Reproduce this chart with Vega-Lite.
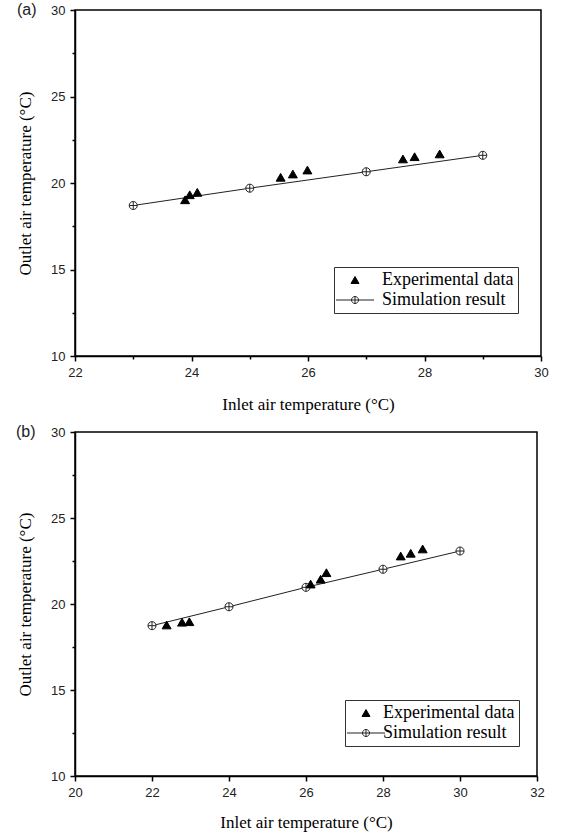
{
  "$schema": "https://vega.github.io/schema/vega-lite/v6.json",
  "padding": {"left": 15, "top": 1, "right": 5, "bottom": 5},
  "background": "white",
  "spacing": 10,
  "resolve": {
    "scale": {"shape": "independent", "fill": "independent", "stroke": "independent", "size": "independent", "x": "independent", "y": "independent"},
    "legend": {"shape": "independent", "fill": "independent", "stroke": "independent", "size": "independent"}
  },
  "config": {
    "view": {"stroke": "black", "strokeWidth": 1.5},
    "axis": {
      "grid": false,
      "domainColor": "black",
      "domainWidth": 1.5,
      "tickColor": "black",
      "tickWidth": 1.5,
      "labelFont": "Liberation Sans",
      "labelFontSize": 13,
      "labelColor": "#222",
      "labelPadding": 5,
      "labelFlush": false,
      "labelOverlap": false,
      "titleFont": "Liberation Serif",
      "titleFontSize": 17,
      "titleFontWeight": "normal",
      "titleColor": "black"
    },
    "axisX": {"titlePadding": 17},
    "axisY": {"titlePadding": 16},
    "legend": {
      "orient": "none",
      "padding": 4,
      "strokeColor": "#333",
      "fillColor": "white",
      "symbolStrokeWidth": 1,
      "symbolOffset": 8,
      "labelOffset": 18,
      "labelFont": "Liberation Serif",
      "labelFontSize": 18,
      "labelColor": "black",
      "rowPadding": 2
    },
    "title": {"font": "Liberation Sans", "fontSize": 16, "fontWeight": "normal", "color": "#222", "anchor": "start", "frame": "group"}
  },
  "datasets": {
    "a": [
      {"series": "Simulation result", "x": 23, "y": 18.7},
      {"series": "Simulation result", "x": 25, "y": 19.7},
      {"series": "Simulation result", "x": 27, "y": 20.65},
      {"series": "Simulation result", "x": 29, "y": 21.6},
      {"series": "Experimental data", "x": 23.89, "y": 19.03},
      {"series": "Experimental data", "x": 23.97, "y": 19.32},
      {"series": "Experimental data", "x": 24.1, "y": 19.46},
      {"series": "Experimental data", "x": 25.53, "y": 20.33},
      {"series": "Experimental data", "x": 25.74, "y": 20.52},
      {"series": "Experimental data", "x": 25.99, "y": 20.75},
      {"series": "Experimental data", "x": 27.63, "y": 21.39},
      {"series": "Experimental data", "x": 27.83, "y": 21.52},
      {"series": "Experimental data", "x": 28.26, "y": 21.68}
    ],
    "b": [
      {"series": "Simulation result", "x": 22, "y": 18.74},
      {"series": "Simulation result", "x": 24, "y": 19.84},
      {"series": "Simulation result", "x": 26, "y": 20.97},
      {"series": "Simulation result", "x": 28, "y": 22.02},
      {"series": "Simulation result", "x": 30, "y": 23.08},
      {"series": "Experimental data", "x": 22.38, "y": 18.78},
      {"series": "Experimental data", "x": 22.78, "y": 18.94},
      {"series": "Experimental data", "x": 22.97, "y": 18.97},
      {"series": "Experimental data", "x": 26.12, "y": 21.16},
      {"series": "Experimental data", "x": 26.38, "y": 21.44},
      {"series": "Experimental data", "x": 26.53, "y": 21.82},
      {"series": "Experimental data", "x": 28.46, "y": 22.79},
      {"series": "Experimental data", "x": 28.72, "y": 22.95},
      {"series": "Experimental data", "x": 29.03, "y": 23.2}
    ]
  },
  "vconcat": [
    {
      "width": 466,
      "height": 346,
      "title": {"text": "(a)", "dx": -58, "offset": -14},
      "data": {"name": "a"},
      "layer": [
        {
          "transform": [{"filter": "datum.series === 'Simulation result'"}],
          "mark": {"type": "line", "color": "#222", "strokeWidth": 1},
          "encoding": {
            "x": {"field": "x", "type": "quantitative", "scale": {"domain": [22, 30], "nice": false, "zero": false},
              "axis": {"title": "Inlet air temperature (°C)", "values": [22, 23, 24, 25, 26, 27, 28, 29, 30],
                "labelExpr": "datum.value % 2 === 0 ? format(datum.value, 'd') : ''",
                "tickSize": {"condition": {"test": "datum.value % 2 === 0", "value": 5}, "value": 3}}},
            "y": {"field": "y", "type": "quantitative", "scale": {"domain": [10, 30], "nice": false, "zero": false},
              "axis": {"title": "Outlet air temperature (°C)", "values": [10, 12.5, 15, 17.5, 20, 22.5, 25, 27.5, 30],
                "labelExpr": "datum.value % 5 === 0 ? format(datum.value, 'd') : ''",
                "tickSize": {"condition": {"test": "datum.value % 5 === 0", "value": 5}, "value": 3}}}
          }
        },
        {
          "mark": {"type": "point", "size": 80, "strokeWidth": 1, "opacity": 1},
          "encoding": {
            "x": {"field": "x", "type": "quantitative"},
            "y": {"field": "y", "type": "quantitative"},
            "shape": {"condition": {"test": "datum.series === 'Simulation result'", "value": "M-0.9,0A0.9,0.9 0 1,0 0.9,0A0.9,0.9 0 1,0 -0.9,0M-0.9,0L0.9,0M0,-0.9L0,0.9"}, "value": "triangle-up"},
            "fill": {"condition": {"test": "datum.series === 'Simulation result'", "value": "white"}, "value": "black"},
            "stroke": {"condition": {"test": "datum.series === 'Simulation result'", "value": "#222"}, "value": "black"}
          }
        },
        {
          "transform": [{"filter": "false"}],
          "mark": {"type": "point", "strokeWidth": 1, "opacity": 1},
          "encoding": {
            "x": {"field": "x", "type": "quantitative"},
            "y": {"field": "y", "type": "quantitative"},
            "shape": {"field": "series", "type": "nominal",
              "scale": {"domain": ["Experimental data", "Simulation result"], "range": ["triangle-up", "M-3.8,0L-0.7,0M0.7,0L3.8,0M-0.7,0A0.7,0.7 0 1,0 0.7,0A0.7,0.7 0 1,0 -0.7,0M-0.7,0L0.7,0M0,-0.7L0,0.7"]},
              "legend": {"title": null, "legendX": 259, "legendY": 257}},
            "size": {"field": "series", "type": "nominal", "scale": {"domain": ["Experimental data", "Simulation result"], "range": [64, 100]}, "legend": {"title": null, "legendX": 259, "legendY": 257}},
            "fill": {"field": "series", "type": "nominal", "scale": {"domain": ["Experimental data", "Simulation result"], "range": ["black", "white"]}, "legend": {"title": null, "legendX": 259, "legendY": 257}},
            "stroke": {"field": "series", "type": "nominal", "scale": {"domain": ["Experimental data", "Simulation result"], "range": ["black", "#222"]}, "legend": {"title": null, "legendX": 259, "legendY": 257}}
          }
        }
      ]
    },
    {
      "width": 462,
      "height": 344,
      "title": {"text": "(b)", "dx": -59, "offset": -14},
      "data": {"name": "b"},
      "layer": [
        {
          "transform": [{"filter": "datum.series === 'Simulation result'"}],
          "mark": {"type": "line", "color": "#222", "strokeWidth": 1},
          "encoding": {
            "x": {"field": "x", "type": "quantitative", "scale": {"domain": [20, 32], "nice": false, "zero": false},
              "axis": {"title": "Inlet air temperature (°C)", "titlePadding": 15, "values": [20, 21, 22, 23, 24, 25, 26, 27, 28, 29, 30, 31, 32],
                "labelExpr": "datum.value % 2 === 0 ? format(datum.value, 'd') : ''",
                "tickSize": {"condition": {"test": "datum.value % 2 === 0", "value": 5}, "value": 3}}},
            "y": {"field": "y", "type": "quantitative", "scale": {"domain": [10, 30], "nice": false, "zero": false},
              "axis": {"title": "Outlet air temperature (°C)", "values": [10, 12.5, 15, 17.5, 20, 22.5, 25, 27.5, 30],
                "labelExpr": "datum.value % 5 === 0 ? format(datum.value, 'd') : ''",
                "tickSize": {"condition": {"test": "datum.value % 5 === 0", "value": 5}, "value": 3}}}
          }
        },
        {
          "mark": {"type": "point", "size": 80, "strokeWidth": 1, "opacity": 1},
          "encoding": {
            "x": {"field": "x", "type": "quantitative"},
            "y": {"field": "y", "type": "quantitative"},
            "shape": {"condition": {"test": "datum.series === 'Simulation result'", "value": "M-0.9,0A0.9,0.9 0 1,0 0.9,0A0.9,0.9 0 1,0 -0.9,0M-0.9,0L0.9,0M0,-0.9L0,0.9"}, "value": "triangle-up"},
            "fill": {"condition": {"test": "datum.series === 'Simulation result'", "value": "white"}, "value": "black"},
            "stroke": {"condition": {"test": "datum.series === 'Simulation result'", "value": "#222"}, "value": "black"}
          }
        },
        {
          "transform": [{"filter": "false"}],
          "mark": {"type": "point", "strokeWidth": 1, "opacity": 1},
          "encoding": {
            "x": {"field": "x", "type": "quantitative"},
            "y": {"field": "y", "type": "quantitative"},
            "shape": {"field": "series", "type": "nominal",
              "scale": {"domain": ["Experimental data", "Simulation result"], "range": ["triangle-up", "M-3.8,0L-0.7,0M0.7,0L3.8,0M-0.7,0A0.7,0.7 0 1,0 0.7,0A0.7,0.7 0 1,0 -0.7,0M-0.7,0L0.7,0M0,-0.7L0,0.7"]},
              "legend": {"title": null, "legendX": 270, "legendY": 268, "labelOffset": 8}},
            "size": {"field": "series", "type": "nominal", "scale": {"domain": ["Experimental data", "Simulation result"], "range": [64, 100]}, "legend": {"title": null, "legendX": 270, "legendY": 268, "labelOffset": 8}},
            "fill": {"field": "series", "type": "nominal", "scale": {"domain": ["Experimental data", "Simulation result"], "range": ["black", "white"]}, "legend": {"title": null, "legendX": 270, "legendY": 268, "labelOffset": 8}},
            "stroke": {"field": "series", "type": "nominal", "scale": {"domain": ["Experimental data", "Simulation result"], "range": ["black", "#222"]}, "legend": {"title": null, "legendX": 270, "legendY": 268, "labelOffset": 8}}
          }
        }
      ]
    }
  ]
}
